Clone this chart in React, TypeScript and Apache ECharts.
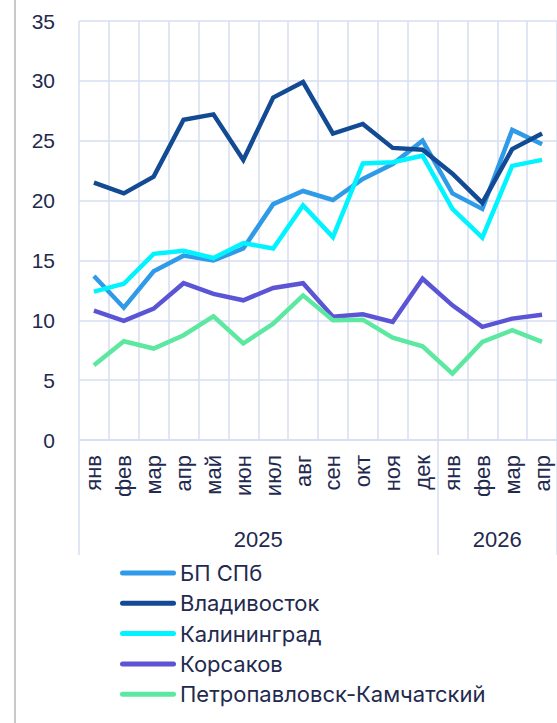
import React, { useEffect, useRef } from "react";
import * as echarts from "echarts";

const months = ["янв", "фев", "мар", "апр", "май", "июн", "июл", "авг", "сен", "окт", "ноя", "дек", "янв", "фев", "мар", "апр"];
const years = ["2025", "2026"];
const yearCenters = [6, 14];
const yearBounds = [0, 12, 16];
const yTicks = [0, 5, 10, 15, 20, 25, 30, 35];

const seriesNames = ["БП СПб", "Владивосток", "Калининград", "Корсаков", "Петропавловск-Камчатский"];
const bpSpb = [13.7, 11.05, 14.1, 15.4, 15.0, 16.0, 19.7, 20.8, 20.05, 21.8, 23.05, 25.0, 20.6, 19.3, 25.9, 24.7];
const vladivostok = [21.5, 20.6, 22.0, 26.75, 27.2, 23.4, 28.6, 29.9, 25.6, 26.4, 24.4, 24.25, 22.25, 19.8, 24.3, 25.6];
const kaliningrad = [12.4, 13.05, 15.55, 15.8, 15.2, 16.45, 16.0, 19.6, 16.95, 23.1, 23.2, 23.75, 19.3, 16.9, 22.9, 23.4];
const korsakov = [10.8, 9.95, 10.97, 13.1, 12.2, 11.67, 12.7, 13.1, 10.3, 10.5, 9.86, 13.47, 11.25, 9.45, 10.14, 10.47];
const petropavlovsk = [6.25, 8.25, 7.64, 8.75, 10.33, 8.06, 9.72, 12.08, 10.0, 10.05, 8.55, 7.83, 5.55, 8.2, 9.17, 8.2];
const seriesData = [bpSpb, vladivostok, kaliningrad, korsakov, petropavlovsk];
const colors = ["#2F9BE8", "#134A94", "#00F4FF", "#5B55D6", "#5CE8A0"];

const gridColor = "#D7DEF2";
const textColor = "#1F2A4E";
const axisFont = "Liberation Sans, Arial, sans-serif";

export default function App() {
  const ref = useRef<HTMLDivElement>(null);
  useEffect(() => {
    if (!ref.current) return;
    const chart = echarts.init(ref.current, undefined, { renderer: "svg" });
    chart.setOption({
      animation: false,
      backgroundColor: "#ffffff",
      grid: { left: 79, top: 21, right: -2, bottom: 283, containLabel: false },
      graphic: [
        { type: "rect", shape: { x: 14, y: 0, width: 2, height: 723 }, style: { fill: "#C9C9C9" }, silent: true },
      ],
      legend: {
        orient: "vertical",
        left: 115,
        top: 556,
        itemWidth: 56,
        itemHeight: 5,
        itemGap: 6.3,
        icon: "path://M2.5,0 H53.5 A2.5,2.5 0 0 1 53.5,5 H2.5 A2.5,2.5 0 0 1 2.5,0 Z",
        textStyle: { color: textColor, fontSize: 22, fontFamily: "Inter, sans-serif", lineHeight: 24, padding: [0, 0, 0, -1] },
        data: seriesNames,
      },
      xAxis: [
        {
          type: "category",
          data: months,
          boundaryGap: true,
          axisLine: { show: true, lineStyle: { color: gridColor, width: 1.5 } },
          axisTick: { show: false },
          splitLine: { show: true, lineStyle: { color: gridColor, width: 1.5 } },
          axisLabel: {
            rotate: 90,
            interval: 0,
            margin: 15,
            color: textColor,
            fontSize: 22,
            fontFamily: axisFont,
          },
        },
        {
          type: "value",
          min: 0,
          max: 16,
          position: "bottom",
          axisLine: { show: false },
          splitLine: { show: false },
          axisTick: {
            show: true,
            customValues: yearBounds,
            length: 115,
            lineStyle: { color: gridColor, width: 1.5 },
          },
          axisLabel: {
            customValues: yearCenters,
            margin: 88,
            color: textColor,
            fontSize: 22,
            fontFamily: axisFont,
            formatter: (v: number) => years[yearCenters.indexOf(v)] ?? "",
          },
        },
      ],
      yAxis: {
        type: "value",
        min: yTicks[0],
        max: yTicks[yTicks.length - 1],
        interval: 5,
        axisLine: { show: false },
        axisTick: { show: false },
        splitLine: { show: true, lineStyle: { color: gridColor, width: 1.5 } },
        axisLabel: { color: textColor, fontSize: 21, fontFamily: axisFont, margin: 24 },
      },
      series: seriesNames.map((name, i) => ({
        name,
        type: "line",
        data: seriesData[i],
        xAxisIndex: 0,
        symbol: "none",
        color: colors[i],
        lineStyle: { width: 4.5, color: colors[i], join: "miter" },
      })),
    });
    return () => chart.dispose();
  }, []);
  return <div ref={ref} style={{ position: "absolute", left: 0, top: 0, width: 557, height: 723 }} />;
}
